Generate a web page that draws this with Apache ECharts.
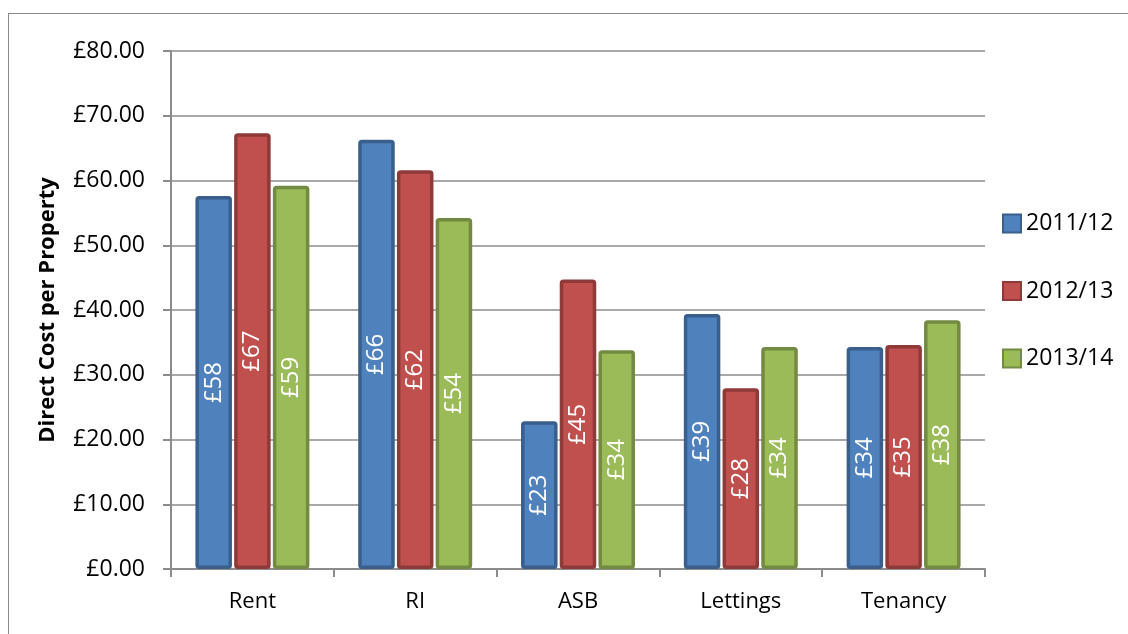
<!DOCTYPE html>
<html lang="en">
<head>
    <meta charset="UTF-8">
    <title>Direct Cost per Property</title>
    <script src="https://cdn.jsdelivr.net/npm/echarts@6/dist/echarts.min.js"></script>
    <style>
        html, body { margin: 0; padding: 0; background: #fff; }
        #frame { position: absolute; left: 8px; top: 13px; width: 1200px; height: 700px; border: 1.5px solid #8c8c8c; }
        #main { position: absolute; left: 0; top: 0; width: 1128px; height: 634px; }
    </style>
</head>
<body>
<div id="frame"></div>
<div id="main"></div>
<script>
    // categories and values
    let categories = ['Rent', 'RI', 'ASB', 'Lettings', 'Tenancy'];
    let seriesNames = ['2011/12', '2012/13', '2013/14'];
    let values1112 = [57.6, 66.3, 22.8, 39.4, 34.3];
    let values1213 = [67.3, 61.6, 44.7, 27.9, 34.6];
    let values1314 = [59.2, 54.2, 33.8, 34.3, 38.4];
    let yTicks = [0, 10, 20, 30, 40, 50, 60, 70, 80];

    let fills = ['#4F81BD', '#C0504D', '#9BBB59'];
    let borders = ['#3A5F8C', '#8E3A38', '#728A41'];
    let font = 'Open Sans';

    function makeSeries(i, data) {
        return {
            name: seriesNames[i],
            type: 'bar',
            data: data,
            barGap: '6%',
            barCategoryGap: '30%',
            itemStyle: {
                color: fills[i],
                borderColor: borders[i],
                borderWidth: 3.5,
                borderRadius: 2
            },
            label: {
                show: true,
                position: 'inside',
                rotate: 90,
                color: '#fff',
                fontFamily: font,
                fontSize: 24,
                formatter: function (p) {
                    return '£' + Math.round(p.value);
                }
            }
        };
    }

    let myChart = echarts.init(document.getElementById('main'));
    let option = {
        animation: false,
        grid: {left: 171, right: 143, top: 51, bottom: 65},
        legend: {
            orient: 'vertical',
            left: 997,
            top: 207,
            itemGap: 44.5,
            itemWidth: 18,
            itemHeight: 18,
            icon: 'rect',
            textStyle: {fontFamily: font, fontSize: 23, color: '#000'},
            data: seriesNames
        },
        xAxis: {
            type: 'category',
            data: categories,
            axisLine: {lineStyle: {color: '#8c8c8c', width: 2}},
            axisTick: {show: true, alignWithLabel: false, length: 8, lineStyle: {color: '#8c8c8c', width: 2}},
            axisLabel: {color: '#000', fontFamily: font, fontSize: 22, margin: 22}
        },
        yAxis: {
            type: 'value',
            min: yTicks[0],
            max: yTicks[yTicks.length - 1],
            interval: 10,
            name: 'Direct Cost per Property',
            nameLocation: 'middle',
            nameGap: 112,
            nameTextStyle: {color: '#000', fontFamily: font, fontSize: 22, fontWeight: 'bold'},
            axisLine: {show: true, lineStyle: {color: '#8c8c8c', width: 2}},
            axisTick: {show: true, length: 8, lineStyle: {color: '#8c8c8c', width: 2}},
            splitLine: {lineStyle: {color: '#8c8c8c', width: 1.5}},
            axisLabel: {
                color: '#000', fontFamily: font, fontSize: 23, margin: 26,
                formatter: function (v) { return '£' + v.toFixed(2); }
            }
        },
        series: [
            makeSeries(0, values1112),
            makeSeries(1, values1213),
            makeSeries(2, values1314)
        ]
    };
    myChart.setOption(option);
</script>
</body>
</html>
